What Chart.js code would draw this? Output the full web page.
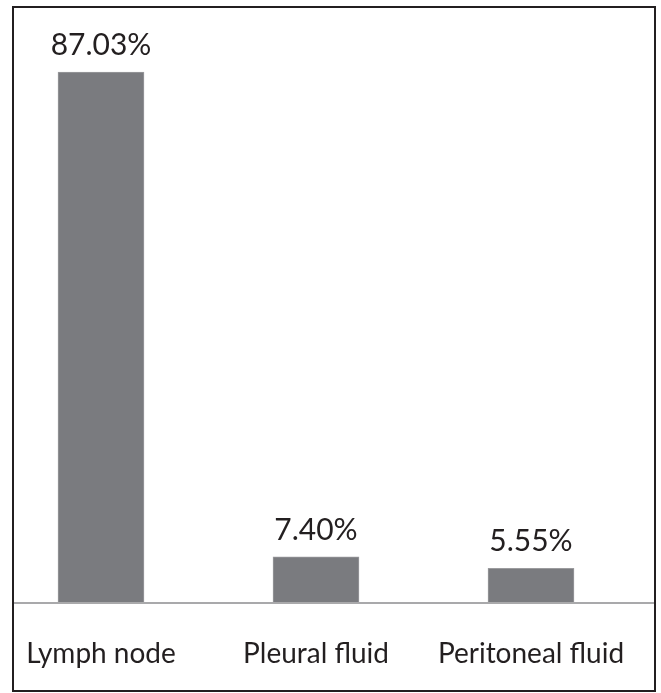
<!DOCTYPE html>
<html lang="en">
<head>
    <meta charset="UTF-8">
    <title>Specimen type</title>
    <script src="https://cdn.jsdelivr.net/npm/chart.js"></script>
    <style>
        html, body { margin: 0; padding: 0; background: #fff; }
        #wrap { position: relative; width: 661px; height: 693px; }
        #frame {
            position: absolute; left: 12px; top: 6px; width: 644px; height: 686px;
            box-sizing: border-box; border: 2px solid #231f20; pointer-events: none;
        }
    </style>
</head>
<body>
    <div id="wrap">
        <canvas id="specimenChart" width="661" height="693"></canvas>
        <div id="frame"></div>
    </div>

    <script>
        const categories = ['Lymph node', 'Pleural fluid', 'Peritoneal fluid'];
        const percentages = [87.03, 7.40, 5.55];

        const FONT = 'Lato, "Open Sans", sans-serif';

        // value labels above bars + baseline across the frame
        const barExtras = {
            id: 'barExtras',
            afterDatasetsDraw(chart) {
                const ctx = chart.ctx;
                const y0 = chart.scales.y.getPixelForValue(0);
                ctx.save();
                ctx.strokeStyle = '#a9a9ab';
                ctx.lineWidth = 2;
                ctx.beginPath();
                ctx.moveTo(13, y0 + 1);
                ctx.lineTo(655, y0 + 1);
                ctx.stroke();

                ctx.fillStyle = '#231f20';
                ctx.font = '30px ' + FONT;
                ctx.textAlign = 'center';
                ctx.textBaseline = 'alphabetic';
                chart.getDatasetMeta(0).data.forEach((bar, i) => {
                    ctx.fillText(percentages[i].toFixed(2) + '%', bar.x, bar.y - 17);
                });
                ctx.restore();
            }
        };

        new Chart(document.getElementById('specimenChart'), {
            type: 'bar',
            data: {
                labels: categories,
                datasets: [{
                    data: percentages,
                    backgroundColor: '#7a7b7f',
                    borderColor: '#9b9b9e',
                    borderWidth: 1,
                    barThickness: 86,
                    clip: false
                }]
            },
            options: {
                responsive: false,
                animation: false,
                layout: { padding: { left: 101, right: 130, top: 54, bottom: 0 } },
                plugins: { legend: { display: false }, tooltip: { enabled: false } },
                scales: {
                    x: {
                        offset: false,
                        grid: { display: false, drawTicks: false },
                        border: { display: false },
                        afterFit(scale) {
                            scale.height = 91;
                            scale.paddingLeft = 0;
                            scale.paddingRight = 0;
                        },
                        ticks: {
                            padding: 35,
                            color: '#231f20',
                            font: { family: FONT, size: 28 },
                            maxRotation: 0,
                            autoSkip: false
                        }
                    },
                    y: {
                        display: false,
                        min: 0,
                        max: 90
                    }
                }
            },
            plugins: [barExtras]
        });
    </script>
</body>
</html>
